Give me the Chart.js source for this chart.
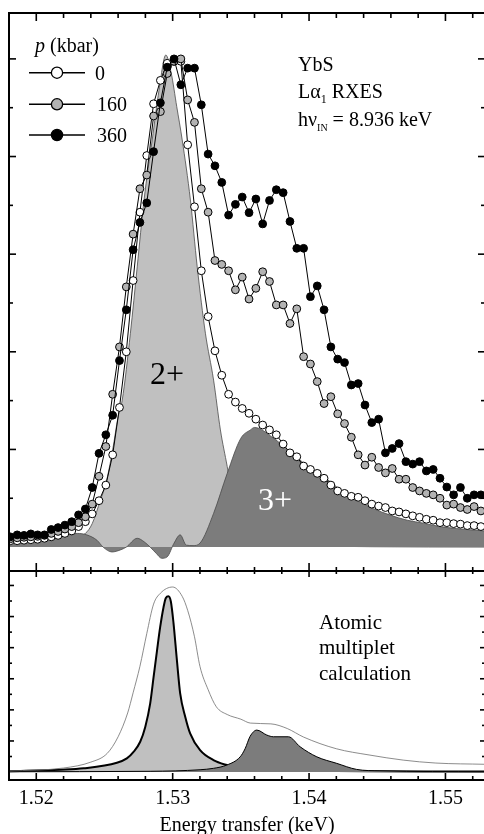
<!DOCTYPE html>
<html><head><meta charset="utf-8">
<script src="https://cdn.jsdelivr.net/npm/chart.js@4.4.1/dist/chart.umd.min.js"></script>
<style>
html,body{margin:0;padding:0;background:#fff;overflow:hidden;width:484px;height:834px;}
#wrap{position:relative;width:484px;height:834px;overflow:hidden;background:#fff;}
canvas{position:absolute;left:0;}
#top{top:0;}
#bot{top:560px;}
.t{position:absolute;font-family:'Liberation Serif','Times New Roman',serif;font-size:20px;line-height:1;color:#000;white-space:nowrap;}
.t sub{font-size:12px;vertical-align:baseline;position:relative;top:5px;line-height:0;}
.big{font-size:32px;}
.calc{font-size:21px;}
</style></head>
<body><div id="wrap">
<canvas id="top" width="492" height="580"></canvas>
<canvas id="bot" width="492" height="280"></canvas>
<div class="t" style="left:35px;top:35px"><i>p</i> (kbar)</div>
<div class="t" style="left:95px;top:63px">0</div>
<div class="t" style="left:97px;top:94px">160</div>
<div class="t" style="left:97px;top:125px">360</div>
<div class="t" style="left:298px;top:54px">YbS</div>
<div class="t" style="left:298px;top:81px">Lα<sub>1</sub> RXES</div>
<div class="t" style="left:298px;top:109px">hν<sub style="font-size:10px">IN</sub> = 8.936 keV</div>
<div class="t big" style="left:150px;top:357px">2+</div>
<div class="t big" style="left:258px;top:483px;color:#fff">3+</div>
<div class="t calc" style="left:319px;top:612px">Atomic</div>
<div class="t calc" style="left:319px;top:637px">multiplet</div>
<div class="t calc" style="left:319px;top:663px">calculation</div>
</div>
<script>
// ---------- data ----------
const energy = [1.5181,1.5186,1.5191,1.5196,1.5201,1.5206,1.5211,1.5216,1.5221,1.5226,1.5231,1.5236,1.5241,1.5246,1.5251,1.5256,1.5261,1.5266,1.5271,1.5276,1.5281,1.5286,1.5291,1.5296,1.5301,1.5306,1.5311,1.5316,1.5321,1.5326,1.5331,1.5336,1.5341,1.5346,1.5351,1.5356,1.5361,1.5366,1.5371,1.5376,1.5381,1.5386,1.5391,1.5396,1.5401,1.5406,1.5411,1.5416,1.5421,1.5426,1.5431,1.5436,1.5441,1.5446,1.5451,1.5456,1.5461,1.5466,1.5471,1.5476,1.5481,1.5486,1.5491,1.5496,1.5501,1.5506,1.5511,1.5516,1.5521,1.5526];
const p0 = [0.13,0.13,0.14,0.15,0.16,0.18,0.21,0.24,0.28,0.33,0.42,0.52,0.68,0.95,1.27,1.89,2.86,4.00,5.46,6.86,8.02,9.08,9.56,9.91,9.95,9.95,8.24,6.97,5.66,4.72,4.02,3.52,3.13,2.97,2.84,2.74,2.62,2.50,2.40,2.30,2.11,1.93,1.85,1.66,1.59,1.51,1.41,1.27,1.15,1.10,1.04,1.02,0.95,0.88,0.84,0.81,0.74,0.72,0.68,0.64,0.61,0.57,0.55,0.50,0.50,0.48,0.47,0.44,0.44,0.42];
const p160 = [0.17,0.19,0.20,0.21,0.22,0.24,0.28,0.32,0.37,0.42,0.50,0.62,0.88,1.45,2.06,3.13,4.10,5.33,6.41,7.34,7.62,8.83,8.92,9.70,9.95,10.00,9.16,8.70,7.34,6.86,5.87,5.79,5.66,5.27,5.53,5.08,5.30,5.64,5.44,4.96,4.96,4.58,4.88,3.90,3.75,3.39,2.94,3.08,2.73,2.53,2.25,1.89,1.68,1.84,1.63,1.52,1.61,1.39,1.39,1.22,1.15,1.10,1.07,1.00,0.86,0.88,0.81,0.77,0.83,0.74];
const p360 = [0.21,0.25,0.24,0.27,0.25,0.25,0.36,0.40,0.45,0.52,0.66,0.78,1.22,1.92,2.30,2.70,3.82,4.86,6.09,6.65,7.05,8.10,9.10,9.83,10.00,9.47,9.81,9.81,9.06,8.05,7.81,7.47,6.80,7.02,7.17,6.85,7.13,6.62,7.10,7.32,7.26,6.67,6.12,6.12,5.13,5.35,4.86,4.10,3.85,3.78,3.32,3.35,2.91,2.55,2.62,1.93,2.02,2.12,1.75,1.70,1.75,1.56,1.59,1.41,1.23,1.07,1.22,1.00,1.07,1.07];

const div2Energy = [1.5180,1.5210,1.5229,1.5236,1.5241,1.5247,1.5251,1.5256,1.5260,1.5263,1.5269,1.5274,1.5279,1.5285,1.5290,1.5295,1.5299,1.5303,1.5307,1.5313,1.5318,1.5324,1.5330,1.5335,1.5340,1.5346,1.5353,1.5364,1.5529];
const div2Values = [0.08,0.15,0.22,0.28,0.48,0.96,1.30,1.99,2.67,3.01,4.38,5.74,7.11,8.34,9.36,10.08,9.70,9.02,8.34,7.11,5.74,4.38,3.42,2.40,1.65,0.70,0.20,0.05,0];
const div3Energy = [1.5180,1.5198,1.5210,1.52225,1.5230,1.5237,1.52445,1.5249,1.52555,1.52615,1.5266,1.5274,1.5279,1.52835,1.5288,1.5292,1.5296,1.5301,1.53055,1.5310,1.5315,1.5320,1.5330,1.5340,1.5350,1.5357,1.5360,1.5374,1.5386,1.5398,1.5411,1.5423,1.5435,1.5447,1.5459,1.5472,1.5484,1.5496,1.5508,1.5520,1.5529];
const div3Values = [0.10,0.14,0.18,0.25,0.28,0.25,0.14,0,-0.10,-0.06,0,0.18,0.11,0,-0.13,-0.23,-0.20,0.08,0.25,0.04,0.03,0.08,0.69,1.51,2.23,2.40,2.45,2.23,1.95,1.68,1.44,1.17,0.96,0.79,0.66,0.55,0.49,0.42,0.38,0.35,0.33];

const calcTotalEnergy = [1.5180,1.5220,1.5240,1.5252,1.5260,1.5267,1.5271,1.5276,1.5281,1.5286,1.5291,1.5300,1.5307,1.5311,1.5316,1.5320,1.5326,1.5332,1.5340,1.5350,1.5357,1.5372,1.5384,1.5396,1.5420,1.5444,1.5469,1.5493,1.5529];
const calcTotalValues = [0.06,0.26,0.64,1.2,2.27,3.8,5.1,6.8,8.9,10.8,11.5,11.9,11.3,10.4,8.7,6.8,5.3,4.2,3.7,3.4,3.15,3.1,2.8,2.25,1.5,1.1,0.77,0.58,0.5];
const calc2Energy = [1.5180,1.52176,1.52347,1.52591,1.52664,1.52713,1.52762,1.52799,1.52835,1.5286,1.52885,1.52908,1.52933,1.5295,1.52969,1.52987,1.53006,1.53031,1.53055,1.53092,1.53128,1.53201,1.53299,1.53397,1.53495,1.53934,1.5529];
const calc2Values = [0.05,0.15,0.24,0.6,0.88,1.3,1.95,2.9,4.4,6.1,7.8,9.3,10.6,11.2,11.3,10.95,9.6,7.2,5.06,3.56,2.49,1.41,0.77,0.45,0.24,0.1,0.03];
const calc3Energy = [1.5180,1.52835,1.53201,1.53299,1.53397,1.53495,1.53531,1.53568,1.53617,1.5369,1.53739,1.53849,1.53934,1.54057,1.54203,1.54349,1.5452,1.5529];
const calc3Values = [0.02,0.05,0.15,0.24,0.45,0.98,1.5,2.3,2.7,2.38,2.27,2.27,1.63,0.98,0.56,0.17,0.08,0.02];

const xMajorTicks = [1.52,1.53,1.54,1.55];
const xMinorTicks = [1.522,1.524,1.526,1.528,1.532,1.534,1.536,1.538,1.542,1.544,1.546,1.548,1.552];
const topYTicks = [1,2,3,4,5,6,7,8,9,10];
const botYTicks = [1,2,3,4,5,6,7,8,9,10,11,12];
const legendLabels = ['0','160','360'];
const legendFills = ['#ffffff','#b3b3b3','#000000'];

const SERIF = "'Liberation Serif','Times New Roman',serif";
const pts = (xs, ys) => xs.map((x, i) => ({x, y: ys[i]}));

function framePlugin(cfg) {
  return {
    id: 'frame_' + cfg.name,
    afterDatasetsDraw(chart) {
      const {ctx, chartArea: a} = chart;
      const xs = chart.scales.x, ys = chart.scales.y;
      const seg = (x1, y1, x2, y2) => { ctx.beginPath(); ctx.moveTo(x1, y1); ctx.lineTo(x2, y2); ctx.stroke(); };
      ctx.save();
      ctx.strokeStyle = '#000';
      ctx.lineWidth = 1.6;
      xMajorTicks.forEach(v => { const p = xs.getPixelForValue(v); seg(p, a.top, p, a.top + cfg.topMajor); seg(p, a.bottom, p, a.bottom - cfg.botMajor); });
      xMinorTicks.forEach(v => { const p = xs.getPixelForValue(v); seg(p, a.top, p, a.top + cfg.topMinor); seg(p, a.bottom, p, a.bottom - cfg.botMinor); });
      cfg.yTicks.forEach(v => { const p = ys.getPixelForValue(v); const L = v % 2 === 0 ? cfg.yLong : cfg.yShort; seg(a.left, p, a.left + L, p); seg(a.right, p, a.right - L, p); });
      ctx.lineWidth = 2;
      ctx.strokeRect(a.left, a.top, a.right - a.left, a.bottom - a.top);
      if (cfg.legend) {
        const rows = [72.7, 104.3, 135];
        legendLabels.forEach((l, i) => {
          ctx.lineWidth = 1.5;
          seg(29, rows[i], 85, rows[i]);
          ctx.beginPath(); ctx.arc(57, rows[i], 5.6, 0, Math.PI * 2);
          ctx.fillStyle = legendFills[i]; ctx.fill();
          ctx.lineWidth = 1.3; ctx.stroke();
        });
      }
      ctx.restore();
    }
  };
}

const series = (label, vals, fillCol, order) => ({
  label, data: pts(energy, vals), order,
  borderColor: '#000', borderWidth: 1, tension: 0, fill: false,
  pointRadius: 3.9, pointBackgroundColor: fillCol, pointBorderColor: '#000', pointBorderWidth: 1
});

new Chart(document.getElementById('top'), {
  type: 'line',
  data: { datasets: [
    series('360 kbar', p360, '#000000', 0),
    series('160 kbar', p160, '#b3b3b3', 1),
    series('0 kbar', p0, '#ffffff', 2),
    { label: '3+', data: pts(div3Energy, div3Values), order: 3, fill: 'origin',
      backgroundColor: '#7c7c7c', borderColor: '#4a4a4a', borderWidth: 0.8, pointRadius: 0, cubicInterpolationMode: 'monotone' },
    { label: '2+', data: pts(div2Energy, div2Values), order: 4, fill: 'origin',
      backgroundColor: '#c0c0c0', borderColor: '#4a4a4a', borderWidth: 0.8, pointRadius: 0, cubicInterpolationMode: 'monotone' }
  ]},
  options: {
    responsive: false, animation: false, events: [],
    layout: { padding: { left: 9, top: 13, right: 7, bottom: 9 } },
    scales: {
      x: { type: 'linear', display: false, min: 1.518, max: 1.5529 },
      y: { display: false, min: -0.49, max: 10.94 }
    },
    plugins: { legend: { display: false }, tooltip: { enabled: false } }
  },
  plugins: [framePlugin({ name: 'top', topMajor: 8, topMinor: 5, botMajor: 8, botMinor: 4, yTicks: topYTicks, yLong: 7, yShort: 4, legend: true })]
});

new Chart(document.getElementById('bot'), {
  type: 'line',
  data: { datasets: [
    { label: 'total', data: pts(calcTotalEnergy, calcTotalValues), order: 0, fill: false,
      borderColor: '#6e6e6e', borderWidth: 0.8, pointRadius: 0, cubicInterpolationMode: 'monotone' },
    { label: '3+ calc', data: pts(calc3Energy, calc3Values), order: 1, fill: 'origin',
      backgroundColor: '#7c7c7c', borderColor: '#000', borderWidth: 1, pointRadius: 0, cubicInterpolationMode: 'monotone' },
    { label: '2+ calc', data: pts(calc2Energy, calc2Values), order: 2, fill: 'origin',
      backgroundColor: '#c0c0c0', borderColor: '#000', borderWidth: 2, pointRadius: 0, cubicInterpolationMode: 'monotone' }
  ]},
  options: {
    responsive: false, animation: false, events: [],
    layout: { padding: { left: 9, top: 11, right: 7, bottom: 0 } },
    scales: {
      x: { type: 'linear', min: 1.518, max: 1.5529, position: 'bottom',
        afterBuildTicks: s => { s.ticks = xMajorTicks.map(v => ({ value: v })); },
        afterFit: s => { s.height = 60; },
        grid: { display: false, drawTicks: false }, border: { display: false },
        ticks: { padding: 7, color: '#000', font: { family: SERIF, size: 20 }, maxRotation: 0, autoSkip: false,
          callback: v => Number(v).toFixed(2) },
        title: { display: true, text: 'Energy transfer (keV)', color: '#000', font: { family: SERIF, size: 20 }, padding: { top: 0, bottom: 2 } } },
      y: { display: false, min: -0.51, max: 12.93 }
    },
    plugins: { legend: { display: false }, tooltip: { enabled: false } }
  },
  plugins: [framePlugin({ name: 'bot', topMajor: 6, topMinor: 3, botMajor: 7, botMinor: 4, yTicks: botYTicks, yLong: 5, yShort: 3, legend: false })]
});
</script>
</body></html>
